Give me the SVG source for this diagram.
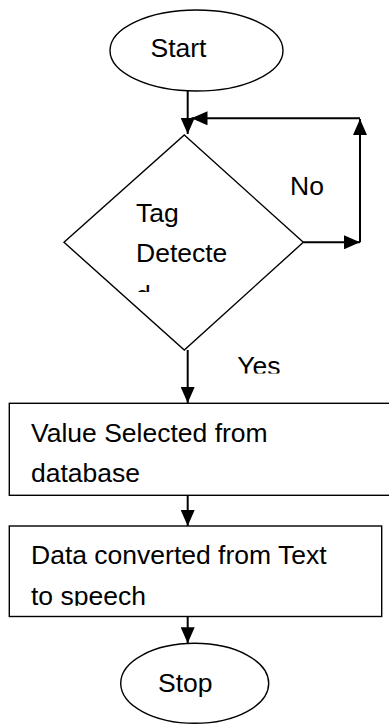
<svg xmlns="http://www.w3.org/2000/svg" width="389" height="724" viewBox="0 0 389 724">
<style>
.shape{fill:#fff;stroke:#000;stroke-width:1.4}
.conn{fill:none;stroke:#000;stroke-width:2}
.t{font-family:"Liberation Sans",Arial,sans-serif;font-size:26.5px;fill:#000}
</style>
<defs>
<marker id="ah" markerUnits="userSpaceOnUse" markerWidth="16" markerHeight="14" refX="16" refY="7" orient="auto">
<path d="M0,0 L16,7 L0,14 Z" fill="#000"/>
</marker>
<clipPath id="cd"><rect x="60" y="120" width="250" height="172"/></clipPath>
<clipPath id="cy"><rect x="200" y="340" width="120" height="33.5"/></clipPath>
<clipPath id="cs"><rect x="10" y="527" width="371" height="78.8"/></clipPath>
</defs>
<rect width="389" height="724" fill="#fff"/>
<g id="start">
<ellipse class="shape" cx="196.5" cy="50.5" rx="86.5" ry="40.5"/>
<text class="t" x="150.5" y="57.3">Start</text>
</g>
<g id="decision">
<polygon class="shape" points="184.3,135 303.3,242.3 184.3,350 64,242.3"/>
<g clip-path="url(#cd)">
<text class="t" x="136" y="221.7">Tag</text>
<text class="t" x="136" y="262.3">Detecte</text>
<text class="t" x="136" y="304.3">d</text>
</g>
</g>
<g id="process1">
<rect class="shape" x="9.3" y="403.3" width="390" height="92"/>
<text class="t" x="31" y="441.7">Value Selected from</text>
<text class="t" x="31" y="482.3">database</text>
</g>
<g id="process2">
<rect class="shape" x="9.3" y="526" width="372.4" height="90.5"/>
<g clip-path="url(#cs)">
<text class="t" x="31" y="564.3">Data converted from Text</text>
<text class="t" x="31" y="604.8">to speech</text>
</g>
</g>
<g id="stop">
<ellipse class="shape" cx="194.7" cy="683.3" rx="74" ry="40"/>
<text class="t" x="158" y="691.7">Stop</text>
</g>
<g id="connectors">
<line class="conn" x1="187.7" y1="91" x2="187.7" y2="134" marker-end="url(#ah)"/>
<polyline class="conn" points="303.3,242.3 360,242.3" marker-end="url(#ah)"/>
<polyline class="conn" points="360,242.3 360,119" marker-end="url(#ah)"/>
<polyline class="conn" points="360,118.3 191.5,118.3" marker-end="url(#ah)"/>
<line class="conn" x1="187.7" y1="350" x2="187.7" y2="403" marker-end="url(#ah)"/>
<line class="conn" x1="187.7" y1="495.3" x2="187.7" y2="526" marker-end="url(#ah)"/>
<line class="conn" x1="187.7" y1="616.5" x2="187.7" y2="643.3" marker-end="url(#ah)"/>
<g clip-path="url(#cy)">
<text class="t" x="237.3" y="375">Yes</text>
</g>
<text class="t" x="290" y="195">No</text>
</g>
</svg>
